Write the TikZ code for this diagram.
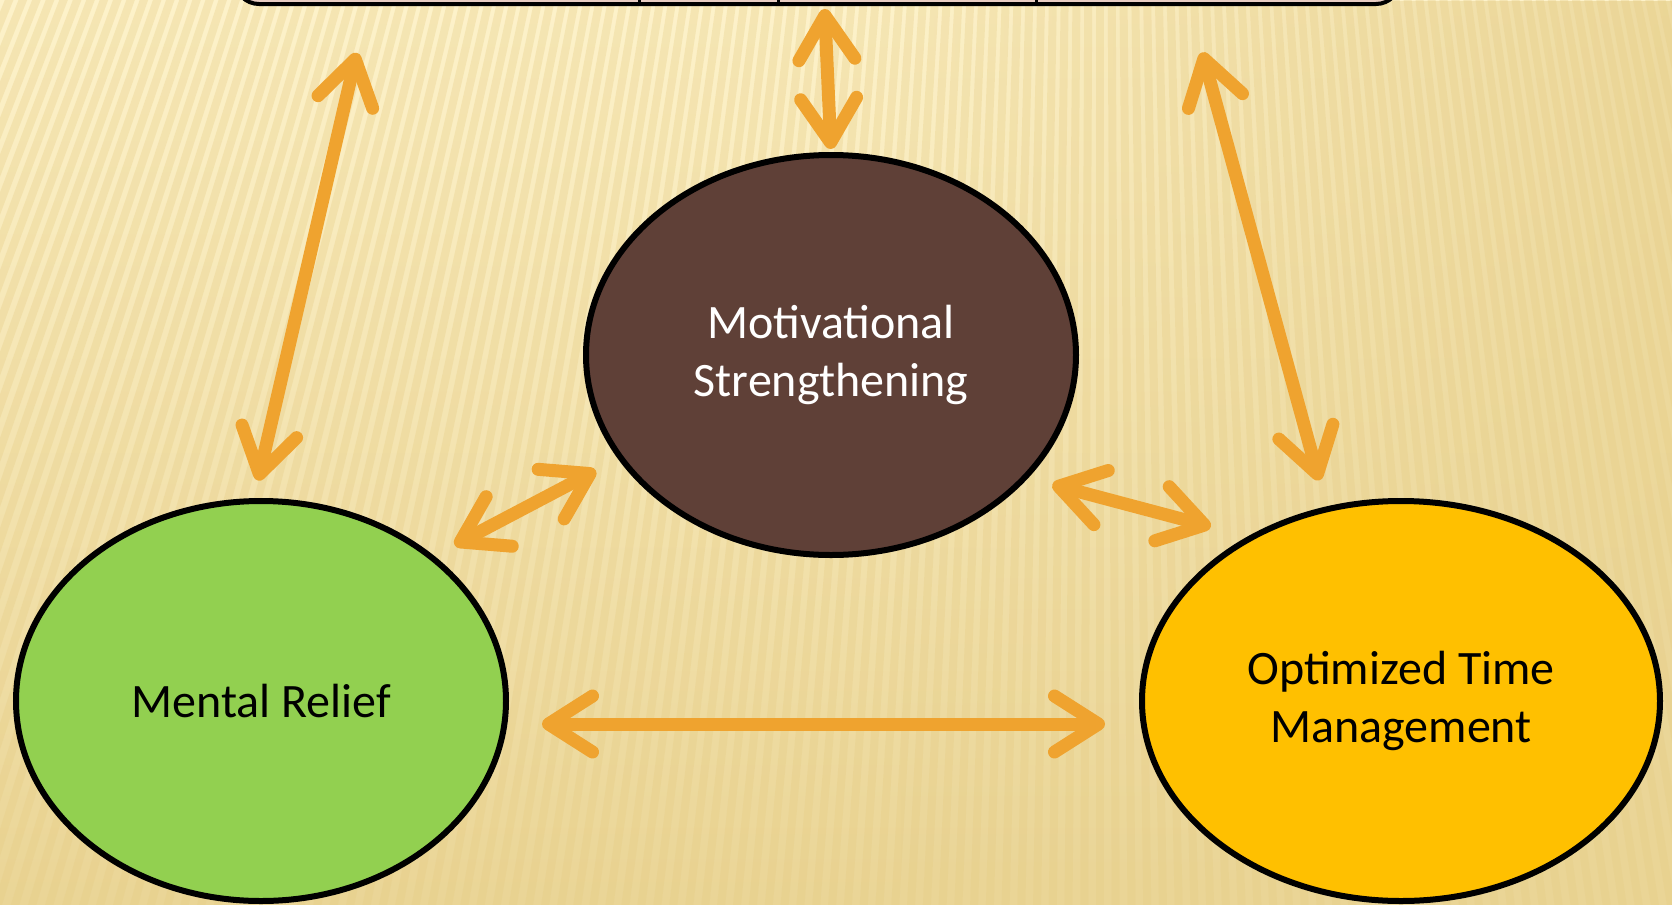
\documentclass[tikz,border=0pt]{standalone}
\usepackage{fontspec}
\setmainfont{Carlito}
\usepackage{xcolor}
\usepackage{tikz}
\usetikzlibrary{
  positioning,
  calc,
  arrows.meta,
  shapes.geometric,
  fadings
}
\definecolor{bgtop}{HTML}{FDF2CA}
\definecolor{bgbot}{HTML}{EAD596}
\definecolor{stripecol}{HTML}{E6CC84}
\definecolor{linkorange}{HTML}{EFA32F}
\definecolor{motivbrown}{HTML}{5F4037}
\definecolor{reliefgreen}{HTML}{92D050}
\definecolor{timeyellow}{HTML}{FFC000}
\definecolor{boxpink}{HTML}{E8CCC2}

\begin{document}
\begin{tikzpicture}[x=0.5pt, y=-0.5pt,
    bubble/.style={ellipse, draw=black, line width=3pt, inner sep=0pt,
      minimum width=245pt, minimum height=200pt, align=center,
      font=\fontsize{24}{29}\selectfont},
    link/.style={draw=linkorange, line width=6.5pt,
      {Straight Barb[length=22pt, width=28pt, round]}-{Straight Barb[length=22pt, width=28pt, round]}}]
      \useasboundingbox (0,0) rectangle (1672,905);

      % Background
      \fill[top color=bgtop, bottom color=bgbot] (0,0) rectangle (1672,905);
      \fill[bgbot, path fading=west, opacity=0.8] (900,0) rectangle (1672,905);
      \begin{scope}
        \clip (0,0) rectangle (1672,905);
        \foreach \a in {-23,-22.75,...,12.5} {
          \draw[stripecol, line width=4pt, opacity=0.32] (1100,-2700) -- ++({3800*sin(\a)},{3800*cos(\a)});
        }
      \end{scope}

      % Top panel (cut off)
      \node[draw=black, line width=2pt, fill=boxpink, rounded corners=12pt,
        minimum width=582.5pt, minimum height=26pt, inner sep=0pt] (panel) at (817.5,-22) {};
      \foreach \x in {639,778,1036} {
        \draw[line width=1.5pt] (\x,-10) -- (\x,4);
      }

      % Three bubbles
      \node[bubble, fill=motivbrown, text=white] (motiv) at (831,355) {Motivational\\Strengthening};
      \node[bubble, fill=reliefgreen] (relief) at (261,701) {Mental Relief};
      \node[bubble, fill=timeyellow, minimum width=259pt] (timeman) at (1401,701) {Optimized Time\\Management};

      % Links
      \draw[link, shorten <=24pt, shorten >=9pt] ([xshift=-225pt]panel.south) -- (relief.92);
      \draw[link, shorten <=1.5pt, shorten >=1.5pt] ([xshift=3.5pt]panel.south) -- (motiv.north);
      \draw[link, shorten <=24pt, shorten >=13.5pt] ([xshift=186pt]panel.south) -- (timeman.111);
      \draw[link, shorten <=11.5pt, shorten >=12.5pt] (relief.40) -- (motiv.206);
      \draw[link, shorten <=12.5pt, shorten >=19pt] (motiv.328) -- (timeman.133);
      \draw[link, shorten <=16.5pt, shorten >=17pt] ([yshift=-11.5pt]relief.east) -- ([yshift=-11.5pt]timeman.west);
    \end{tikzpicture}
\end{document}
